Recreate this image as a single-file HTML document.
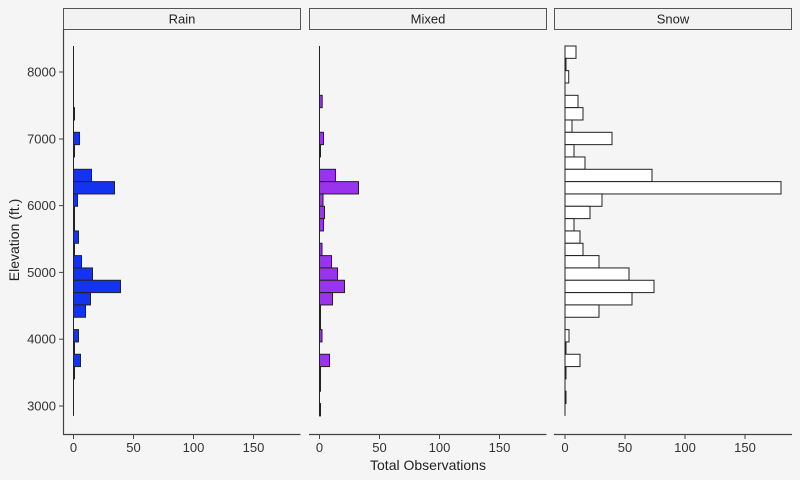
<!DOCTYPE html>
<html><head><meta charset="utf-8"><style>
body{margin:0;background:#f5f5f5;}
svg{display:block;font-family:"Liberation Sans",sans-serif;}
</style></head><body>
<svg id="s" width="800" height="480" viewBox="0 0 800 480" xmlns="http://www.w3.org/2000/svg">
<rect width="800" height="480" fill="#f5f5f5"/>
<rect x="63.5" y="8.5" width="237" height="21" fill="#f2f2f2" stroke="#555" stroke-width="1"/>
<text x="182" y="23.5" text-anchor="middle" font-size="13" fill="#222">Rain</text>
<rect x="309.5" y="8.5" width="237" height="21" fill="#f2f2f2" stroke="#555" stroke-width="1"/>
<text x="428" y="23.5" text-anchor="middle" font-size="13" fill="#222">Mixed</text>
<rect x="554.5" y="8.5" width="237" height="21" fill="#f2f2f2" stroke="#555" stroke-width="1"/>
<text x="673" y="23.5" text-anchor="middle" font-size="13" fill="#222">Snow</text>
<line x1="63.5" y1="29" x2="63.5" y2="434.5" stroke="#444" stroke-width="1.2"/>
<line x1="63" y1="434.5" x2="300.5" y2="434.5" stroke="#444" stroke-width="1.2"/>
<line x1="309" y1="434.5" x2="546.5" y2="434.5" stroke="#444" stroke-width="1.2"/>
<line x1="554" y1="434.5" x2="792" y2="434.5" stroke="#444" stroke-width="1.2"/>
<g font-size="13" fill="#333" text-anchor="end">
<text x="56" y="76.5">8000</text><text x="56" y="143.5">7000</text><text x="56" y="210">6000</text>
<text x="56" y="277">5000</text><text x="56" y="343.5">4000</text><text x="56" y="410.5">3000</text>
</g>
<g stroke="#444" stroke-width="1">
<line x1="59" y1="72" x2="63" y2="72"/><line x1="59" y1="139" x2="63" y2="139"/><line x1="59" y1="205.6" x2="63" y2="205.6"/>
<line x1="59" y1="272.4" x2="63" y2="272.4"/><line x1="59" y1="339.2" x2="63" y2="339.2"/><line x1="59" y1="406" x2="63" y2="406"/>
</g>
<g id="xt" font-size="13" fill="#333" text-anchor="middle"></g>
<text x="428" y="470" text-anchor="middle" font-size="14" fill="#222">Total Observations</text>
<text transform="translate(19,240) rotate(-90)" text-anchor="middle" font-size="14" fill="#222">Elevation (ft.)</text>
<g id="bars"></g>
</svg>
<script>
var NS="http://www.w3.org/2000/svg";
var bars=document.getElementById("bars"),xt=document.getElementById("xt");
function el(t,a,p){var e=document.createElementNS(NS,t);for(var k in a)e.setAttribute(k,a[k]);p.appendChild(e);return e;}
var panels=[
 {x0:73.5,fill:"#1432f2",w:{5:1,7:6,8:1,10:18,11:41,12:4,13:1,14:1,15:5,16:1,17:8,18:19,19:47,20:17,21:12,23:5,24:1,25:7,26:1}},
 {x0:319.5,fill:"#9933ee",w:{4:2.7,7:4,8:1,10:16,11:39,12:3.5,13:5,14:4,16:2.5,17:12,18:18,19:25,20:13,21:1,22:1,23:2.5,25:10,26:1,27:1,29:1}},
 {x0:565,fill:"#ffffff",w:{0:11,1:1,2:3.7,4:13,5:18,6:7,7:47,8:9,9:20,10:87,11:216,12:37,13:25,14:9,15:15,16:18,17:34,18:64,19:89,20:67,21:34,23:4,24:1,25:15,26:1,28:1}}
];
var top0=46,bh=12.33;
panels.forEach(function(p){
 el("line",{x1:p.x0,y1:top0,x2:p.x0,y2:top0+30*bh,stroke:"#222","stroke-width":1},bars);
 for(var i in p.w){
  el("rect",{x:p.x0,y:top0+i*bh,width:p.w[i],height:bh,fill:p.fill,stroke:"#222","stroke-width":1},bars);
 }
 [0,50,100,150].forEach(function(v){
  var x=p.x0+v*1.2;
  el("line",{x1:x,y1:434.5,x2:x,y2:439,stroke:"#444","stroke-width":1},bars);
  var t=el("text",{x:x,y:452},xt);t.textContent=v;
 });
});
</script>
</body></html>
